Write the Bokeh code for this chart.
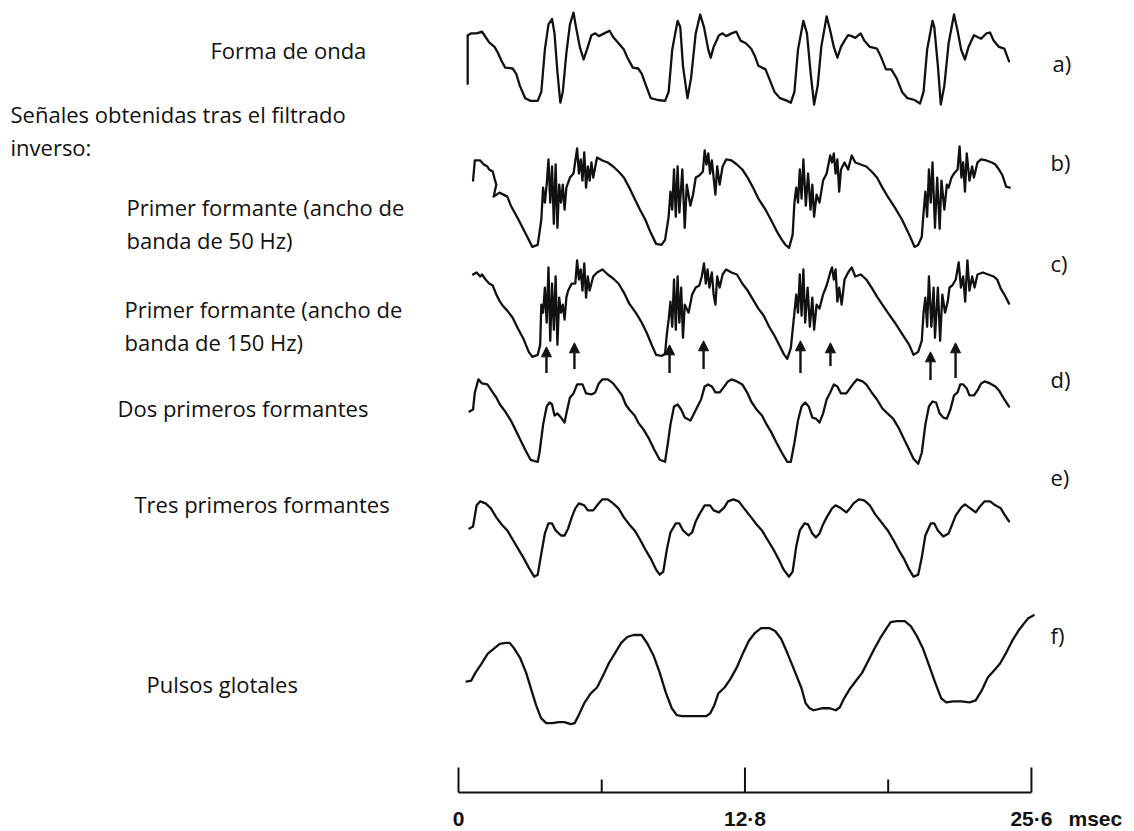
from bokeh.plotting import figure
from bokeh.models import Range1d, Arrow, NormalHead, ColumnDataSource
from bokeh.core.properties import value
from bokeh.embed import file_html
from bokeh.resources import INLINE

# ---------------- data (time in ms, amplitude in arbitrary units) ----------------
TRACE_A = [(0.41,23),(0.41,77),(0.57,79),(0.81,79),(1.05,81),(1.21,75),(1.37,69),(1.61,64),(1.77,57),(1.93,48),
 (2.09,41),(2.42,40),(2.58,34),(2.74,21),(2.98,7),(3.22,4),(3.54,4),(3.70,14),(3.86,61),(4.02,89),(4.18,95),
 (4.29,79),(4.42,36),(4.55,2),(4.66,14),(4.82,57),(4.98,89),(5.14,102),(5.25,86),(5.42,64),(5.59,50),(5.74,61),
 (5.94,77),(6.11,79),(6.27,76),(6.51,79),(6.75,82),(6.91,75),(7.15,68),(7.39,61),(7.55,52),(7.79,41),(8.03,40),
 (8.19,34),(8.35,23),(8.59,7),(8.91,5),(9.23,4),(9.39,14),(9.55,61),(9.79,93),(9.91,86),(10.03,43),(10.23,7),
 (10.39,29),(10.60,79),(10.80,100),(10.97,86),(11.16,61),(11.27,52),(11.40,64),(11.64,77),(11.80,79),(11.96,76),
 (12.20,79),(12.41,81),(12.60,71),(12.84,68),(13.08,62),(13.24,54),(13.40,43),(13.72,39),(13.88,29),(14.12,14),
 (14.37,7),(14.69,4),(14.85,2),(15.01,14),(15.17,61),(15.41,93),(15.57,79),(15.73,36),(15.89,0),(16.05,21),
 (16.21,64),(16.45,98),(16.61,82),(16.77,64),(16.93,52),(17.09,64),(17.25,71),(17.41,77),(17.57,76),(17.73,74),
 (17.97,79),(18.13,71),(18.38,64),(18.70,62),(18.86,54),(19.10,39),(19.34,39),(19.58,29),(19.82,14),(20.06,7),
 (20.38,5),(20.62,1),(20.78,14),(20.94,61),(21.18,93),(21.26,86),(21.42,43),(21.55,0),(21.71,21),(21.90,68),
 (22.14,100),(22.30,82),(22.46,61),(22.63,50),(22.79,64),(23.03,77),(23.19,75),(23.35,73),(23.59,79),(23.75,80),
 (23.91,71),(24.15,64),(24.39,62),(24.60,48)]

TRACE_B = [(0.65,68),(0.73,88),(0.97,88),(1.13,84),(1.29,82),(1.37,79),(1.53,77),(1.61,70),(1.69,64),(1.57,52),
 (1.83,56),(2.01,54),(2.18,52),(2.34,43),(2.66,30),(2.98,16),(3.30,2),(3.54,4),(3.70,29),(3.78,61),(3.86,46),
 (3.94,64),(4.02,89),(4.10,46),(4.18,82),(4.26,25),(4.34,84),(4.42,21),(4.50,64),(4.58,46),(4.66,64),(4.74,39),
 (4.82,61),(4.98,71),(5.14,75),(5.30,100),(5.38,75),(5.46,89),(5.54,68),(5.62,96),(5.70,61),(5.78,82),(5.86,68),
 (5.94,86),(6.02,71),(6.19,91),(6.43,88),(6.67,86),(6.91,82),(7.15,77),(7.39,71),(7.63,61),(7.87,50),(8.11,39),
 (8.35,29),(8.59,16),(8.83,5),(9.07,4),(9.23,9),(9.39,32),(9.47,57),(9.55,39),(9.63,79),(9.71,32),(9.79,82),
 (9.87,36),(10.00,79),(10.11,21),(10.20,64),(10.36,43),(10.48,54),(10.60,71),(10.76,73),(10.92,77),(11.00,98),
 (11.08,84),(11.16,95),(11.24,75),(11.32,88),(11.40,71),(11.48,54),(11.56,82),(11.67,64),(11.80,82),(11.96,89),
 (12.20,88),(12.44,84),(12.68,79),(12.92,71),(13.16,61),(13.40,50),(13.72,39),(13.96,29),(14.21,18),(14.45,9),
 (14.61,4),(14.77,1),(14.93,14),(15.01,46),(15.09,61),(15.17,46),(15.25,79),(15.33,50),(15.41,89),(15.52,43),
 (15.62,75),(15.73,39),(15.81,64),(15.89,32),(16.00,54),(16.13,46),(16.29,68),(16.45,75),(16.61,93),(16.69,86),
 (16.77,95),(16.85,75),(16.93,89),(17.01,57),(17.09,79),(17.25,86),(17.41,79),(17.57,93),(17.73,86),(17.97,84),
 (18.22,82),(18.46,77),(18.70,71),(18.94,61),(19.18,52),(19.50,41),(19.82,29),(20.14,14),(20.38,2),(20.54,4),
 (20.70,12),(20.78,36),(20.86,57),(20.94,32),(21.02,79),(21.10,46),(21.18,86),(21.29,21),(21.39,71),(21.50,20),
 (21.58,68),(21.71,39),(21.82,64),(21.90,61),(22.03,71),(22.14,75),(22.30,79),(22.39,102),(22.47,71),(22.55,86),
 (22.63,57),(22.71,95),(22.83,68),(22.95,82),(23.03,71),(23.19,86),(23.35,89),(23.59,88),(23.83,86),(23.99,84),
 (24.15,79),(24.31,73),(24.47,62),(24.63,61)]

TRACE_C = [(0.65,84),(0.81,86),(0.97,82),(1.05,84),(1.21,79),(1.37,75),(1.53,73),(1.69,64),(1.85,57),(2.01,52),
 (2.18,48),(2.42,41),(2.66,30),(2.90,20),(3.14,7),(3.30,2),(3.54,4),(3.65,14),(3.70,54),(3.78,46),(3.86,71),
 (3.94,36),(4.02,91),(4.10,18),(4.18,75),(4.26,29),(4.34,82),(4.42,14),(4.50,61),(4.58,46),(4.66,54),(4.74,39),
 (4.82,61),(4.90,68),(5.06,75),(5.22,75),(5.30,98),(5.38,79),(5.46,89),(5.54,68),(5.62,95),(5.70,61),(5.78,82),
 (5.86,68),(6.02,82),(6.19,86),(6.43,89),(6.67,84),(6.91,80),(7.15,75),(7.39,66),(7.63,55),(7.95,45),(8.19,36),
 (8.43,25),(8.67,12),(8.83,4),(9.07,3),(9.23,5),(9.31,25),(9.39,39),(9.47,57),(9.55,32),(9.63,79),(9.71,29),
 (9.79,82),(9.87,36),(9.95,71),(10.03,21),(10.11,54),(10.28,46),(10.44,64),(10.60,71),(10.76,73),(10.87,82),
 (10.97,95),(11.05,75),(11.13,89),(11.21,71),(11.32,86),(11.40,64),(11.48,54),(11.56,82),(11.67,71),(11.80,84),
 (11.96,89),(12.20,86),(12.44,84),(12.68,75),(12.92,68),(13.16,59),(13.40,50),(13.64,43),(13.88,32),(14.12,23),
 (14.37,12),(14.53,5),(14.69,0),(14.85,11),(15.01,46),(15.09,64),(15.17,46),(15.25,84),(15.33,43),(15.41,89),
 (15.49,36),(15.60,71),(15.70,32),(15.81,61),(15.89,29),(16.00,54),(16.13,50),(16.29,64),(16.45,73),(16.61,86),
 (16.69,91),(16.77,79),(16.85,89),(16.93,57),(17.01,71),(17.12,54),(17.25,79),(17.41,86),(17.57,91),(17.73,82),
 (17.97,84),(18.22,79),(18.46,71),(18.70,62),(18.94,54),(19.18,46),(19.50,36),(19.82,25),(20.14,14),(20.33,4),
 (20.54,7),(20.70,18),(20.78,46),(20.86,61),(20.94,32),(21.02,82),(21.13,32),(21.23,71),(21.29,21),(21.42,71),
 (21.52,18),(21.62,64),(21.74,46),(21.86,57),(21.94,71),(22.06,73),(22.22,79),(22.35,96),(22.45,71),(22.55,82),
 (22.64,57),(22.74,98),(22.83,68),(22.95,82),(23.06,71),(23.19,84),(23.43,86),(23.67,84),(23.91,82),(24.07,79),
 (24.23,70),(24.39,64),(24.60,55)]

# arrows under trace c: time, tip and tail amplitude (same units as trace c)
ARROW_T = [3.93, 5.18, 9.43, 10.95, 15.28, 16.62, 21.09, 22.21]
ARROW_TIP = [12, 16, 14, 18, 18, 16, 7, 16]
ARROW_TAIL = [-14, -10, -14, -10, -14, -7, -21, -19]

TRACE_D = [(0.49,52),(0.65,54),(0.73,71),(0.89,84),(1.05,80),(1.29,79),(1.53,71),(1.69,66),(1.85,59),(2.09,52),
 (2.34,43),(2.50,36),(2.74,25),(2.98,14),(3.22,4),(3.54,2),(3.62,11),(3.78,39),(3.94,57),(4.07,61),(4.18,59),
 (4.29,48),(4.42,50),(4.58,46),(4.74,41),(4.82,50),(4.98,66),(5.14,70),(5.30,79),(5.54,79),(5.70,70),(5.94,69),
 (6.11,71),(6.27,80),(6.43,84),(6.67,84),(6.91,80),(7.15,73),(7.31,68),(7.47,59),(7.63,54),(7.87,48),(8.03,41),
 (8.27,34),(8.51,25),(8.75,14),(8.99,4),(9.23,2),(9.36,21),(9.47,39),(9.63,57),(9.79,59),(9.95,54),(10.11,46),
 (10.36,43),(10.48,48),(10.68,57),(10.84,64),(11.00,77),(11.16,79),(11.32,77),(11.48,71),(11.67,71),(11.88,77),
 (12.04,82),(12.20,84),(12.44,82),(12.68,79),(12.92,70),(13.08,62),(13.32,54),(13.56,48),(13.72,41),(13.96,32),
 (14.21,21),(14.45,11),(14.69,2),(14.85,2),(15.01,21),(15.17,43),(15.33,57),(15.49,61),(15.65,57),(15.81,46),
 (15.97,45),(16.13,41),(16.29,50),(16.45,64),(16.61,71),(16.77,79),(16.93,77),(17.09,70),(17.33,70),(17.49,75),
 (17.65,80),(17.81,84),(18.05,82),(18.22,79),(18.46,71),(18.70,64),(18.94,55),(19.18,50),(19.42,45),(19.66,36),
 (19.90,25),(20.14,14),(20.33,5),(20.54,0),(20.70,11),(20.86,39),(21.02,57),(21.18,62),(21.34,61),(21.50,50),
 (21.66,46),(21.82,45),(21.98,54),(22.14,68),(22.30,71),(22.42,79),(22.55,79),(22.71,75),(22.83,68),(23.03,68),
 (23.19,73),(23.35,80),(23.51,82),(23.75,80),(23.99,77),(24.15,73),(24.39,64),(24.60,57)]

TRACE_E = [(0.49,50),(0.65,52),(0.81,73),(0.97,77),(1.21,75),(1.45,70),(1.69,61),(1.93,54),(2.18,48),(2.42,39),
 (2.66,30),(2.90,21),(3.14,11),(3.38,2),(3.54,4),(3.70,25),(3.86,45),(4.02,55),(4.18,55),(4.34,48),(4.58,43),
 (4.74,43),(4.90,50),(5.06,61),(5.22,70),(5.38,75),(5.62,73),(5.78,68),(6.02,68),(6.27,75),(6.43,79),(6.67,79),
 (6.91,75),(7.15,70),(7.39,61),(7.63,54),(7.87,48),(8.11,39),(8.35,29),(8.59,20),(8.83,9),(8.99,4),(9.15,7),
 (9.31,29),(9.47,46),(9.71,55),(9.87,55),(10.03,48),(10.28,43),(10.44,46),(10.60,57),(10.76,64),(11.00,73),
 (11.24,73),(11.40,68),(11.64,66),(11.88,71),(12.04,77),(12.28,79),(12.52,77),(12.76,70),(13.08,61),(13.32,54),
 (13.56,48),(13.80,39),(14.05,30),(14.29,20),(14.53,9),(14.77,2),(14.93,7),(15.09,32),(15.25,48),(15.46,55),
 (15.62,54),(15.81,45),(15.97,41),(16.13,45),(16.29,54),(16.45,61),(16.69,70),(16.85,73),(17.09,70),(17.33,66),
 (17.49,70),(17.65,75),(17.89,79),(18.13,78),(18.38,73),(18.62,64),(18.94,55),(19.18,48),(19.42,39),(19.66,29),
 (19.90,20),(20.14,9),(20.33,2),(20.54,4),(20.70,21),(20.86,43),(21.10,55),(21.26,55),(21.42,48),(21.66,42),
 (21.90,45),(22.06,54),(22.22,63),(22.47,71),(22.63,74),(22.87,70),(23.11,66),(23.27,71),(23.51,77),(23.75,77),
 (23.99,73),(24.23,70),(24.39,64),(24.60,57)]

TRACE_F = [(0.36,44),(0.57,45),(0.76,53),(1.03,62),(1.30,72),(1.57,77),(1.84,82),(2.11,83),(2.29,83),(2.47,78),
 (2.75,68),(3.02,53),(3.29,33),(3.47,20),(3.69,7),(3.92,2),(4.19,2),(4.47,3),(4.74,3),(5.01,1),(5.19,2),(5.37,10),
 (5.64,23),(5.91,32),(6.19,38),(6.46,50),(6.73,63),(7.00,73),(7.27,83),(7.54,89),(7.81,91),(8.18,91),(8.45,82),
 (8.72,70),(8.99,53),(9.26,33),(9.53,17),(9.75,10),(9.99,9),(10.53,9),(11.07,9),(11.25,12),(11.43,20),(11.61,32),
 (11.89,38),(12.16,47),(12.43,58),(12.70,72),(12.97,85),(13.24,93),(13.52,98),(13.88,98),(14.15,95),(14.42,87),
 (14.69,73),(15.05,53),(15.33,37),(15.51,22),(15.69,17),(15.87,15),(16.23,17),(16.59,17),(16.86,15),(17.04,18),
 (17.23,27),(17.50,37),(17.77,45),(18.04,53),(18.31,65),(18.58,77),(18.85,88),(19.13,98),(19.31,104),(19.58,105),
 (19.94,105),(20.21,100),(20.48,90),(20.76,77),(21.03,60),(21.30,43),(21.57,27),(21.79,23),(22.11,24),(22.47,24),
 (22.84,23),(23.11,25),(23.38,35),(23.65,48),(23.92,55),(24.19,62),(24.47,73),(24.74,85),(25.01,95),(25.28,103),
 (25.46,108),(25.70,111)]

MAJOR_TICKS = [0.0, 12.8, 25.6]
MINOR_TICKS = [6.4, 19.2]
TICK_LABELS = ["0", "12·8", "25·6"]
UNIT_LABEL = "msec"

LEFT_LABELS = ["Forma de onda", "Señales obtenidas tras el filtrado", "inverso:",
               "Primer formante (ancho de", "banda de 50 Hz)",
               "Primer formante (ancho de", "banda de 150 Hz)",
               "Dos primeros formantes", "Tres primeros formantes", "Pulsos glotales"]
RIGHT_LABELS = ["a)", "b)", "c)", "d)", "e)", "f)"]

# ---------------- layout (pixel placement of rows and texts) ----------------
W, H = 1134, 831
PX_PER_MS = 22.38
X0_PX = 458

def xd(px):
    return (px - X0_PX) / PX_PER_MS

def yd(py):
    return H - py

ROW_BASE_PX = {"a": 104.0, "b": 248.4, "c": 358.4, "d": 463.3, "e": 578.2, "f": 724.6}
ROW_SCALE = {"a": 0.9, "b": 1.005, "c": 1.005, "d": 1.005, "e": 1.005, "f": 0.99}
LEFT_POS = [(210, 49), (10, 113), (10, 146), (126, 206), (126, 239), (124, 308), (124, 341),
            (117, 407), (134, 503), (146, 683)]
RIGHT_POS = [(1052, 62), (1050, 161), (1050, 262), (1050, 378), (1050, 476), (1050, 634)]
AXIS_PY = 792
MAJOR_LEN = 25
MINOR_LEN = 13
LABEL_PY = 818

INK = "#111111"
TEXT_FONT = value("Open Sans")

p = figure(width=W, height=H, x_range=Range1d(xd(0), xd(W)), y_range=Range1d(0, H),
           output_backend="svg", toolbar_location=None, x_axis_type=None, y_axis_type=None,
           min_border=0)
p.outline_line_color = None
p.background_fill_color = "white"
p.border_fill_color = "white"

traces = {"a": TRACE_A, "b": TRACE_B, "c": TRACE_C, "d": TRACE_D, "e": TRACE_E, "f": TRACE_F}
for key, pts in traces.items():
    base = yd(ROW_BASE_PX[key])
    sc = ROW_SCALE[key]
    xs = [t for t, v in pts]
    ys = [base + v * sc for t, v in pts]
    p.line(xs, ys, line_color=INK, line_width=2.3, line_join="round", line_cap="round")

# arrows under trace c
cb = yd(ROW_BASE_PX["c"])
arr_src = ColumnDataSource(dict(
    x=ARROW_T,
    y0=[cb + v * ROW_SCALE["c"] for v in ARROW_TAIL],
    y1=[cb + v * ROW_SCALE["c"] for v in ARROW_TIP]))
p.add_layout(Arrow(end=NormalHead(size=10, fill_color=INK, line_color=INK, line_width=1),
                   x_start="x", y_start="y0", x_end="x", y_end="y1",
                   line_color=INK, line_width=2.4, source=arr_src))

# scale bar
ay = yd(AXIS_PY)
p.segment(x0=[MAJOR_TICKS[0]], y0=[ay], x1=[MAJOR_TICKS[-1]], y1=[ay], line_color=INK, line_width=1.8)
p.segment(x0=MAJOR_TICKS, y0=[ay] * len(MAJOR_TICKS), x1=MAJOR_TICKS,
          y1=[ay + MAJOR_LEN] * len(MAJOR_TICKS), line_color=INK, line_width=2)
p.segment(x0=MINOR_TICKS, y0=[ay] * len(MINOR_TICKS), x1=MINOR_TICKS,
          y1=[ay + MINOR_LEN] * len(MINOR_TICKS), line_color=INK, line_width=2)
p.text(x=MAJOR_TICKS, y=[yd(LABEL_PY)] * len(MAJOR_TICKS), text=TICK_LABELS,
       text_font=value("Liberation Sans"), text_font_style="bold", text_font_size="21px",
       text_align="center", text_baseline="middle", text_color=INK)
p.text(x=[xd(1068)], y=[yd(LABEL_PY)], text=[UNIT_LABEL],
       text_font=value("Liberation Sans"), text_font_style="bold", text_font_size="21px",
       text_align="left", text_baseline="middle", text_color=INK)

# texts
p.text(x=[xd(px) for px, py in LEFT_POS], y=[yd(py) for px, py in LEFT_POS], text=LEFT_LABELS,
       text_font=TEXT_FONT, text_font_size="22px", text_align="left", text_baseline="middle",
       text_color=INK)
p.text(x=[xd(px) for px, py in RIGHT_POS], y=[yd(py) for px, py in RIGHT_POS], text=RIGHT_LABELS,
       text_font=TEXT_FONT, text_font_size="22px", text_align="left", text_baseline="middle",
       text_color=INK)

open("out.html", "w").write(file_html(p, INLINE))
